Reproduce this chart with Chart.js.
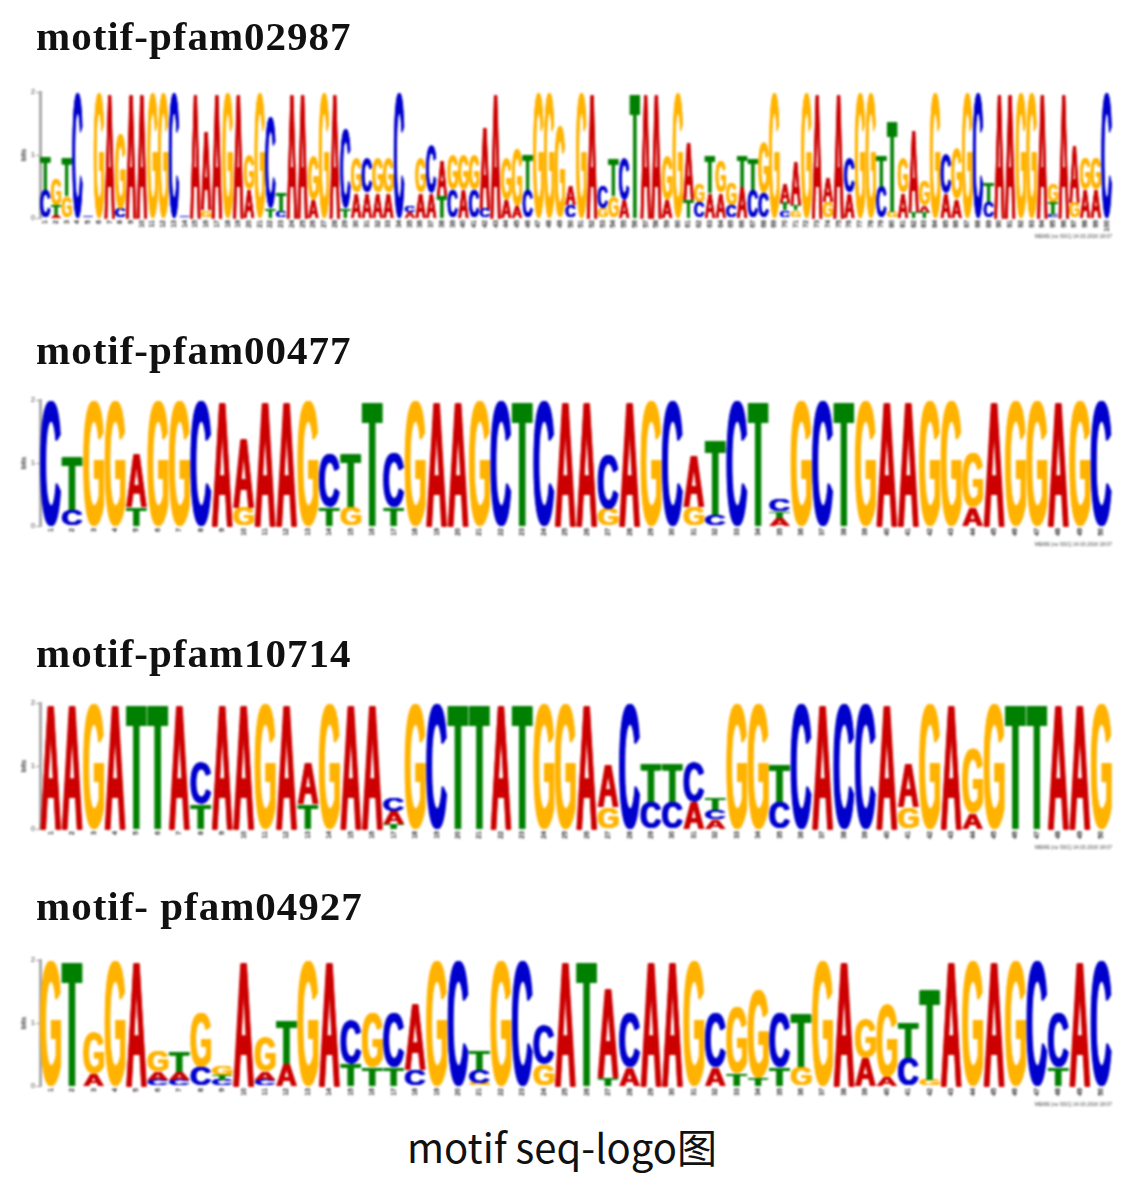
<!DOCTYPE html>
<html>
<head>
<meta charset="utf-8">
<title>motif seq-logo</title>
<script src="https://cdn.jsdelivr.net/npm/chart.js@4"></script>
<style>
html, body { margin: 0; padding: 0; background: #fff; }
body { position: relative; width: 1124px; height: 1204px; overflow: hidden; }
canvas { position: absolute; left: 0; filter: blur(0.9px); }
.name { position: absolute; left: 36px; font: bold 41px "Liberation Serif", serif; letter-spacing: 1px; color: #111; filter: blur(0.6px); white-space: nowrap; line-height: 44px; }
#caption { position: absolute; left: 0; width: 1124px; top: 1118px; text-align: center; font: 40px/56px "Noto Sans CJK SC", sans-serif; color: #111; }
#logo1 { top: 87px; }
#logo2 { top: 395px; }
#logo3 { top: 698px; }
#logo4 { top: 955px; }
#name1 { top: 14px; }
#name2 { top: 328px; }
#name3 { top: 631px; }
#name4 { top: 884px; }
</style>
</head>
<body>
<div class="name" id="name1">motif-pfam02987</div>
<canvas id="logo1" width="1124" height="153"></canvas>
<div class="name" id="name2">motif-pfam00477</div>
<canvas id="logo2" width="1124" height="153"></canvas>
<div class="name" id="name3">motif-pfam10714</div>
<canvas id="logo3" width="1124" height="153"></canvas>
<div class="name" id="name4">motif- pfam04927</div>
<canvas id="logo4" width="1124" height="153"></canvas>
<div id="caption">motif seq-logo图</div>

<script>
// each column is read bottom to top: letter + height in bits
const pfam02987 = [
    'C.45 T.53', 'A.04 T.16 G.42', 'G.35 T.62', 'C2', 'T.01 C.01', 'G2', 'A2', 'C.15 G1.2', 'A2', 'A2',
    'G2', 'G2', 'C2', 'T.01 C.01', 'A2', 'G.12 A1.25', 'A2', 'G2', 'A2', 'A.45 G.55',
    'G2', 'T.15 C1.45', 'C.1 T.3', 'A2', 'A2', 'A.3 G.7', 'G2', 'A2', 'T.15 C1.25', 'A.4 G.55',
    'A.4 C.55', 'A.4 G.55', 'A.4 G.55', 'C2', 'A.1 C.1', 'A.4 G.55', 'A.4 C.75', 'T.35 A.55', 'C.45 G.55', 'A.45 G.55',
    'C.45 G.55', 'C.15 A1.3', 'A2', 'A.3 G.65', 'A.2 G.9', 'C.45 T.55', 'G2', 'G2', 'G1.45', 'C.2 A.3',
    'G2', 'A2', 'G.15 C.35', 'G.35 T.6', 'A.3 C.65', 'T2', 'A2', 'A2', 'A.3 G.7', 'G2',
    'T.3 A.9', 'C.25 G.3', 'A.4 T.6', 'A.4 G.5', 'C.2 G.35', 'A.5 T.5', 'C.45 T.5', 'C.4 G.8', 'G2', 'C.12 T.12 A.3',
    'G.12 T.08 A.7', 'G2', 'A2', 'G.25 A.4', 'A2', 'A.4 C.55', 'G2', 'G2', 'C.5 T.5', 'G.1 T1.45',
    'A.4 G.55', 'T.1 A1.3', 'T.1 A.1 G.4', 'G2', 'A.4 C.6', 'A.3 G.8', 'G2', 'C2', 'C.25 T.3', 'A2',
    'A2', 'G2', 'G2', 'A2', 'C.05 T.2 G.3', 'A2', 'G.25 A.9', 'A.45 G.5', 'A.45 G.5', 'C2'
];
const pfam00477 = [
    'C2', 'C.25 T.85', 'G2', 'G2', 'T.3 A.85', 'G2', 'G2', 'C2', 'A2', 'G.3 A1.1',
    'A2', 'A2', 'G2', 'T.3 C.83', 'G.3 T.85', 'T2', 'T.3 C.85', 'G2', 'A2', 'A2',
    'G2', 'C2', 'T2', 'C2', 'A2', 'A2', 'G.27 C.85', 'A2', 'G2', 'C2',
    'G.3 A.83', 'C.17 T1.2', 'C2', 'T2', 'A.13 T.1 C.19', 'G2', 'C2', 'T2', 'G2', 'A2',
    'A2', 'G2', 'G2', 'A.3 G.85', 'A2', 'G2', 'G2', 'A2', 'G2', 'C2'
];
const pfam10714 = [
    'A2', 'A2', 'G2', 'A2', 'T2', 'T2', 'A2', 'T.4 C.65', 'A2', 'A2',
    'G2', 'A2', 'T.4 A.65', 'G2', 'A2', 'A2', 'T.08 A.2 C.2', 'G2', 'C2', 'T2',
    'T2', 'A2', 'T2', 'G2', 'G2', 'A2', 'G.35 A.68', 'C2', 'C.43 T.62', 'C.43 T.62',
    'A.43 C.62', 'A.15 C.15 T.18', 'G2', 'G2', 'C.43 T.6', 'C2', 'A2', 'C2', 'C2', 'A2',
    'G.35 A.7', 'G2', 'A2', 'A.25 G1.03', 'G2', 'T2', 'T2', 'A2', 'A2', 'G2'
];
const pfam04927 = [
    'G2', 'T2', 'A.2 G.65', 'G2', 'A2', 'C.1 A.13 G.33', 'C.1 A.13 T.33', 'C.3 G.85', 'C.1 T.08 G.14', 'A2',
    'C.1 A.13 G.55', 'A.35 T.7', 'G2', 'A2', 'T.35 C.7', 'T.3 G.85', 'T.3 C.85', 'C.25 A1.05', 'G2', 'C2',
    'G.05 C.2 T.3', 'G2', 'C2', 'G.35 C.6', 'A2', 'T2', 'T.13 A1.42', 'A.3 C.85', 'A2', 'A2',
    'G2', 'A.3 C.85', 'T.2 G1.05', 'T.12 G1.4', 'T.3 C.85', 'G.3 T.85', 'G2', 'A2', 'A.45 G.6', 'A.15 G1.15',
    'C.45 T.55', 'G.1 T1.45', 'A2', 'G2', 'A2', 'G2', 'C2', 'T.3 C.85', 'A2', 'C2'
];
const bitTicks = [0, 1, 2];
const letterColors = { A: '#cc0000', C: '#0000cc', G: '#ffb300', T: '#008000' };
const creditLine = 'MEME (no SSC) 14.03.2016 18:07';

// stretches a bold glyph over the rectangle of each stacked bar
const letterPlugin = {
    id: 'letters',
    afterDatasetsDraw(chart) {
        const ctx = chart.ctx;
        const fatten = 3; // extra stem width, in units of the 100px font
        chart.data.datasets.forEach((dataset, i) => {
            chart.getDatasetMeta(i).data.forEach((bar, j) => {
                const letter = dataset.letters[j];
                if (!letter) return;
                const p = bar.getProps(['x', 'y', 'base', 'width'], true);
                const w = p.width * 0.98;
                const h = p.base - p.y;
                ctx.save();
                ctx.font = 'bold 100px "Liberation Sans"';
                ctx.textBaseline = 'alphabetic';
                ctx.fillStyle = letterColors[letter];
                const m = ctx.measureText(letter);
                const gw = m.actualBoundingBoxLeft + m.actualBoundingBoxRight + fatten * 2;
                const gh = m.actualBoundingBoxAscent + m.actualBoundingBoxDescent;
                ctx.translate(p.x - w / 2, p.base);
                ctx.scale(w / gw, h / gh);
                for (let d = 0; d <= fatten * 2; d += 1.5) {
                    ctx.fillText(letter, m.actualBoundingBoxLeft + d, -m.actualBoundingBoxDescent);
                }
                ctx.restore();
            });
        });
    }
};

function drawLogo(canvasId, columns) {
    const labels = columns.map((c, i) => String(i + 1));
    const stacks = columns.map(c => c.split(' ').map(s => ({ letter: s[0], bits: parseFloat(s.slice(1)) })));
    const datasets = [];
    for (let level = 0; level < 3; level++) {
        datasets.push({
            data: stacks.map(s => s[level] ? s[level].bits : 0),
            letters: stacks.map(s => s[level] ? s[level].letter : null),
            backgroundColor: 'rgba(0,0,0,0)',
            barPercentage: 1,
            categoryPercentage: 1
        });
    }
    new Chart(document.getElementById(canvasId), {
        type: 'bar',
        data: { labels, datasets },
        plugins: [letterPlugin],
        options: {
            responsive: false,
            animation: false,
            devicePixelRatio: 1,
            layout: { padding: { top: 5, right: 12, bottom: 0, left: 20 } },
            plugins: { legend: { display: false }, tooltip: { enabled: false } },
            scales: {
                x: {
                    stacked: true,
                    grid: { display: false, drawTicks: false },
                    border: { display: false },
                    ticks: {
                        autoSkip: false, minRotation: 90, maxRotation: 90, padding: 2,
                        font: { size: 7, weight: 'bold', family: 'Liberation Sans' }, color: '#222'
                    },
                    title: {
                        display: true, text: creditLine, align: 'end', padding: 0,
                        font: { size: 5, family: 'Liberation Sans' }, color: '#444'
                    },
                    afterFit(scale) { scale.height = 22; }
                },
                y: {
                    stacked: true,
                    min: 0,
                    max: 2,
                    afterBuildTicks(scale) { scale.ticks = bitTicks.map(v => ({ value: v })); },
                    grid: { drawOnChartArea: false, tickLength: 4, color: '#999' },
                    border: { color: '#aaa', width: 3 },
                    ticks: { padding: 1, font: { size: 7, family: 'Liberation Sans' }, color: '#333' },
                    title: {
                        display: true, text: 'bits', padding: 0,
                        font: { size: 7, weight: 'bold', family: 'Liberation Sans' }, color: '#333'
                    },
                    afterFit(scale) { scale.width = 20; }
                }
            }
        }
    });
}

drawLogo('logo1', pfam02987);
drawLogo('logo2', pfam00477);
drawLogo('logo3', pfam10714);
drawLogo('logo4', pfam04927);
</script>
</body>
</html>
